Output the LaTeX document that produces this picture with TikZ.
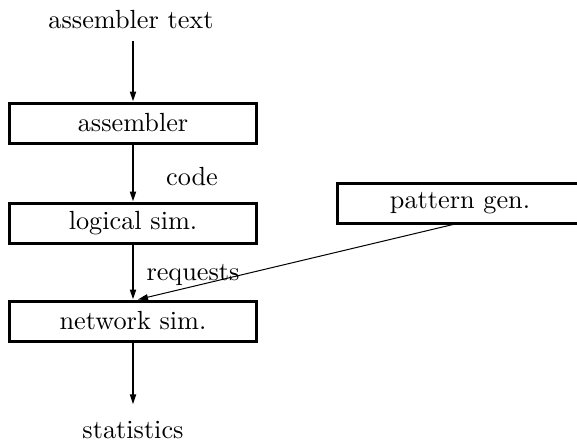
\documentclass[tikz,border=0pt]{standalone}
\usetikzlibrary{arrows.meta}
\begin{document}
\begin{tikzpicture}[x=0.4pt,y=-0.4pt,>={Triangle[length=4pt,width=2.4pt]},
  every node/.style={font=\fontsize{10.5}{12}\selectfont}]
  \tikzstyle{stage}=[draw,line width=1.2pt,minimum width=98.4pt,minimum height=16pt,inner sep=0pt]
  \tikzstyle{flow}=[->,line width=0.7pt]
  \tikzstyle{label}=[anchor=base]
  \useasboundingbox (0,0) rectangle (577,440);
  \node[label] (src) at (131,28) {assembler text};
  \node[stage] (asm) at (133,123) {assembler};
  \node[stage] (logic) at (133,223) {logical sim.};
  \node[stage] (net) at (133,321) {network sim.};
  \node[stage] (pat) at (460,203) {pattern gen.};
  \node[label] (stats) at (133,438) {statistics};
  \node[label] (code) at (192,185) {code};
  \node[label] (req) at (193,280) {requests};
  \draw[flow,shorten <=1.5pt] (asm.north |- src.south) -- (asm);
  \draw[flow] (asm) -- (logic);
  \draw[flow] (logic) -- (net);
  \draw[flow,shorten >=3pt] (net) -- (stats);
  \draw[->,line width=0.4pt] ([xshift=-2.8pt]pat.south) -- ([xshift=2pt]net.north);
\end{tikzpicture}
\end{document}
